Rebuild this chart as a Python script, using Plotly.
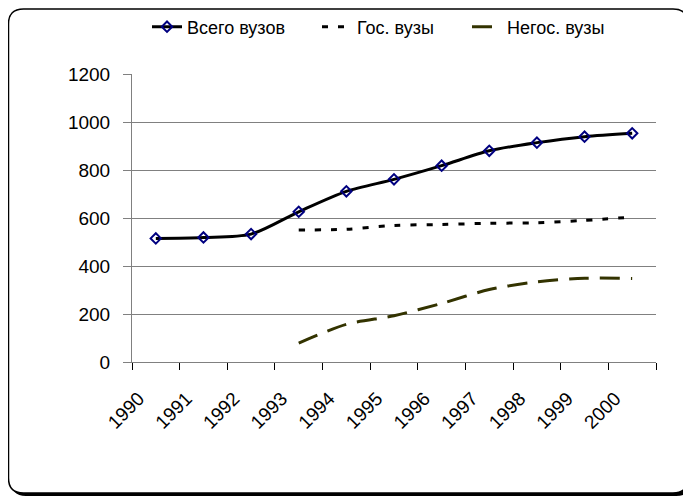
import plotly.graph_objects as go

# ---------------- data ----------------
years = ["1990", "1991", "1992", "1993", "1994", "1995",
         "1996", "1997", "1998", "1999", "2000"]
total = [515, 519, 533, 626, 711, 761, 818, 880, 914, 939, 953]
state = [None, None, None, 550, 553, 569, 573, 578, 580, 590, 604]
private = [None, None, None, 79, 157, 193, 244, 302, 334, 349, 348]

# page body has an 8px margin, so the figure sits at (8, 8) in the window
OFF = 8
W, H = 691 - OFF, 496 - OFF
L, T = 132 - OFF, 74 - OFF
R, B = W - (656 - OFF), H - (362 - OFF)
PW, PH = W - L - R, H - T - B


def px(x, y):
    '''window pixel -> paper coords'''
    return (x - OFF - L) / PW, (H - B - (y - OFF)) / PH


def rounded_rect(x0, y0, x1, y1, r):
    pts = [
        ("M", x0 + r, y0), ("L", x1 - r, y0), ("Q", x1, y0, x1, y0 + r),
        ("L", x1, y1 - r), ("Q", x1, y1, x1 - r, y1), ("L", x0 + r, y1),
        ("Q", x0, y1, x0, y1 - r), ("L", x0, y0 + r), ("Q", x0, y0, x0 + r, y0),
    ]
    out = []
    for p in pts:
        cmd, vals = p[0], p[1:]
        coords = []
        for i in range(0, len(vals), 2):
            a, b = px(vals[i], vals[i + 1])
            coords.append(f"{a:.5f},{b:.5f}")
        out.append(cmd + " ".join(coords))
    return " ".join(out) + " Z"


fig = go.Figure()

fig.add_trace(go.Scatter(
    x=years, y=total, name="Всего вузов", mode="lines+markers", legend="legend",
    line=dict(color="black", width=3, shape="spline", smoothing=0.8),
    marker=dict(symbol="diamond-open", size=8, color="#000080",
                line=dict(color="#000080", width=2))))

fig.add_trace(go.Scatter(
    x=years, y=state, name="Гос. вузы", mode="lines", legend="legend2",
    line=dict(color="black", width=3, dash="6px,10px", shape="spline", smoothing=0.8)))

fig.add_trace(go.Scatter(
    x=years, y=private, name="Негос. вузы", mode="lines", legend="legend3",
    line=dict(color="#333300", width=3, dash="20px,11px", shape="spline", smoothing=0.8)))

# frame with shadow
fig.add_shape(type="path", xref="paper", yref="paper", layer="below",
              path=rounded_rect(11, 12, 691, 496, 15),
              fillcolor="black", line=dict(width=0))
fig.add_shape(type="path", xref="paper", yref="paper", layer="below",
              path=rounded_rect(8.5, 9, 688, 493, 15),
              fillcolor="white", line=dict(color="black", width=1.5))


def legend_at(xw):
    lx, ly = px(xw, 27)
    return dict(orientation="h", x=lx, y=ly, xanchor="left", yanchor="middle",
                font=dict(size=18), bgcolor="rgba(0,0,0,0)", itemwidth=30)


fig.update_layout(
    width=W, height=H,
    margin=dict(l=L, r=R, t=T, b=B, autoexpand=False),
    paper_bgcolor="white", plot_bgcolor="rgba(0,0,0,0)",
    font=dict(family="Liberation Sans, Arial", size=19, color="black"),
    legend=legend_at(147),
    legend2=legend_at(317),
    legend3=legend_at(467),
    xaxis=dict(type="category", tickson="boundaries", ticks="outside", ticklen=7,
               tickcolor="black", tickangle=-45, showgrid=False,
               showline=True, linecolor="#808080", linewidth=1,
               range=[-0.5, 10.5], ticklabelshift=-17, ticklabelstandoff=17),
    yaxis=dict(range=[0, 1200], dtick=200, showgrid=True, gridcolor="#808080",
               gridwidth=1, showline=True, linecolor="#808080", linewidth=1,
               ticks="outside", ticklen=8, tickcolor="#808080", zeroline=False,
               ticklabelstandoff=9),
    showlegend=True,
)

fig.write_html("out.html")
